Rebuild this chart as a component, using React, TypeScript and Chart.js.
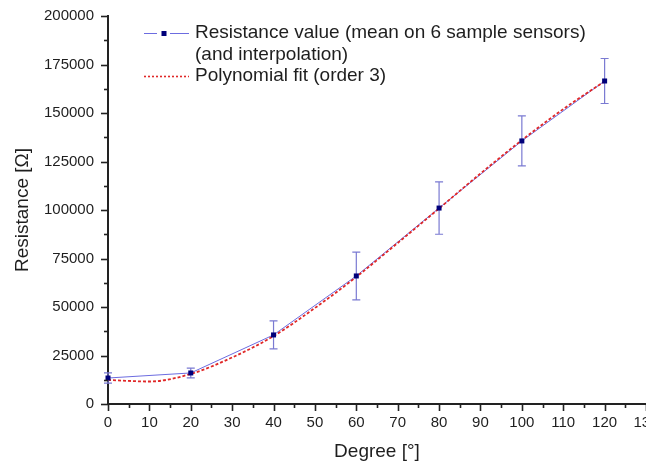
import React, { useEffect, useRef } from "react";
import { Chart, registerables } from "chart.js";

Chart.register(...registerables);

const degrees = [0, 20, 40, 60, 80, 100, 120];
const resistance = [13400, 16000, 35600, 66000, 101000, 135600, 166500];
const resistanceErr = [2600, 2500, 7200, 12300, 13500, 12900, 11600];

const fitDegrees = [0, 10, 20, 30, 40, 50, 60, 70, 80, 90, 100, 110, 120];
const fitValues = [12400, 11600, 15500, 24000, 35000, 49500, 65500, 83000, 100800, 118800, 136000, 152000, 166300];

const legendLabels = [
  "Resistance value (mean on 6 sample sensors)",
  "(and interpolation)",
  "Polynomial fit (order 3)",
];

const FONT = "'Liberation Sans', Arial, sans-serif";
const TEXT = "#1e1e1e";
const AXIS = "#222222";
const BLUE_LINE = "#6c6ce0";
const BLUE_ERR = "#7a7ad2";
const NAVY = "#00007a";
const RED = "#e02828";

export default function App() {
  const ref = useRef<HTMLCanvasElement | null>(null);

  useEffect(() => {
    document.body.style.margin = "0";
    const canvas = ref.current;
    if (!canvas) return;

    const extras = {
      id: "extras",
      afterDatasetsDraw(chart: any) {
        const ctx = chart.ctx;
        const xs = chart.scales.x;
        const ys = chart.scales.y;
        ctx.save();
        ctx.strokeStyle = BLUE_ERR;
        ctx.lineWidth = 1.2;
        degrees.forEach((d, i) => {
          const px = xs.getPixelForValue(d);
          const top = ys.getPixelForValue(resistance[i] + resistanceErr[i]);
          const bot = ys.getPixelForValue(resistance[i] - resistanceErr[i]);
          ctx.beginPath();
          ctx.moveTo(px, top);
          ctx.lineTo(px, bot);
          ctx.moveTo(px - 4, top);
          ctx.lineTo(px + 4, top);
          ctx.moveTo(px - 4, bot);
          ctx.lineTo(px + 4, bot);
          ctx.stroke();
        });
        ctx.fillStyle = NAVY;
        degrees.forEach((d, i) => {
          const px = xs.getPixelForValue(d);
          const py = ys.getPixelForValue(resistance[i]);
          ctx.fillRect(px - 2.5, py - 2.5, 5, 5);
        });
        ctx.restore();
      },
      afterDraw(chart: any) {
        const ctx = chart.ctx;
        const xs = chart.scales.x;
        const ys = chart.scales.y;
        ctx.save();
        ctx.strokeStyle = AXIS;
        ctx.lineWidth = 1.6;
        const ax = xs.top;
        for (let v = 0; v <= 130; v += 5) {
          const px = Math.round(xs.getPixelForValue(v)) + 0.5;
          const len = v % 10 === 0 ? 7 : 4;
          ctx.beginPath();
          ctx.moveTo(px, ax);
          ctx.lineTo(px, ax + len);
          ctx.stroke();
        }
        const ay = ys.right;
        for (let v = 0; v <= 200000; v += 12500) {
          const py = Math.round(ys.getPixelForValue(v)) + 0.5;
          const len = v % 25000 === 0 ? 7 : 4;
          ctx.beginPath();
          ctx.moveTo(ay, py);
          ctx.lineTo(ay - len, py);
          ctx.stroke();
        }
        // legend
        ctx.lineWidth = 1;
        ctx.strokeStyle = BLUE_LINE;
        ctx.beginPath();
        ctx.moveTo(144, 33.5);
        ctx.lineTo(157, 33.5);
        ctx.moveTo(170, 33.5);
        ctx.lineTo(189, 33.5);
        ctx.stroke();
        ctx.fillStyle = NAVY;
        ctx.fillRect(161.5, 31, 5, 5);
        ctx.strokeStyle = RED;
        ctx.lineWidth = 1.6;
        ctx.setLineDash([2, 2]);
        ctx.beginPath();
        ctx.moveTo(144, 76.5);
        ctx.lineTo(189, 76.5);
        ctx.stroke();
        ctx.setLineDash([]);
        ctx.fillStyle = TEXT;
        ctx.font = `19px ${FONT}`;
        ctx.textBaseline = "middle";
        ctx.textAlign = "left";
        ctx.fillText(legendLabels[0], 195, 33);
        ctx.fillText(legendLabels[1], 195, 55);
        ctx.fillText(legendLabels[2], 195, 76);
        ctx.restore();
      },
    };

    const chart = new Chart(canvas, {
      type: "line",
      data: {
        datasets: [
          {
            label: "Polynomial fit (order 3)",
            data: fitDegrees.map((d, i) => ({ x: d, y: fitValues[i] })),
            borderColor: RED,
            borderWidth: 1.8,
            borderDash: [3, 2],
            pointRadius: 0,
            cubicInterpolationMode: "monotone",
            fill: false,
          },
          {
            label: "Resistance value (mean on 6 sample sensors)",
            data: degrees.map((d, i) => ({ x: d, y: resistance[i] })),
            borderColor: BLUE_LINE,
            borderWidth: 1,
            pointRadius: 0,
            tension: 0,
            fill: false,
          },
        ],
      },
      options: {
        animation: false,
        responsive: false,
        maintainAspectRatio: false,
        layout: { padding: { top: 16, right: 0, bottom: 0, left: 0 } },
        plugins: {
          legend: { display: false },
          tooltip: { enabled: false },
        },
        scales: {
          x: {
            type: "linear",
            min: 0,
            max: 130,
            grid: { display: false, drawTicks: false },
            border: { display: true, color: AXIS, width: 2 },
            ticks: {
              stepSize: 10,
              autoSkip: false,
              maxRotation: 0,
              padding: 10,
              color: TEXT,
              font: { family: FONT, size: 15 },
            },
            title: {
              display: true,
              text: "Degree [°]",
              color: TEXT,
              font: { family: FONT, size: 19 },
              padding: { top: 0, bottom: 3 },
            },
            afterFit(scale: any) {
              scale.height = 62;
              scale.paddingLeft = 0;
              scale.paddingRight = 0;
            },
          },
          y: {
            type: "linear",
            min: 0,
            max: 200000,
            grid: { display: false, drawTicks: false },
            border: { display: true, color: AXIS, width: 2 },
            ticks: {
              stepSize: 25000,
              autoSkip: false,
              padding: 14,
              color: TEXT,
              font: { family: FONT, size: 15 },
              callback: (v: any) => String(v),
            },
            title: {
              display: true,
              text: "Resistance [Ω]",
              color: TEXT,
              font: { family: FONT, size: 19 },
              padding: { top: 11, bottom: 0 },
            },
            afterFit(scale: any) {
              scale.width = 108;
              scale.paddingTop = 0;
              scale.paddingBottom = 0;
            },
          },
        },
      },
      plugins: [extras],
    });

    return () => chart.destroy();
  }, []);

  return (
    <div style={{ width: 646, height: 466, overflow: "hidden", background: "#fff" }}>
      <canvas ref={ref} width={646} height={466} style={{ display: "block" }} />
    </div>
  );
}
